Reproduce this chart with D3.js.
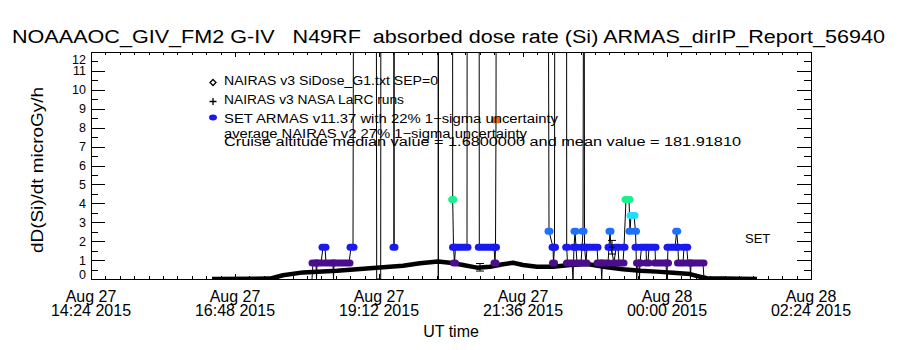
<!DOCTYPE html>
<html>
<head>
<meta charset="utf-8">
<script src="https://cdn.jsdelivr.net/npm/d3@7"></script>
<style>
  body { margin: 0; background: #fff; }
  text { font-family: "Liberation Sans", Arial, sans-serif; fill: #000; }
</style>
</head>
<body>
<div id="chart"></div>
<script>
// times are minutes after 2015-08-27 00:00 UT

// SET ARMAS v11.37 samples (values above 12 run off the top of the plot)
const armasMin = [1085, 1086, 1089, 1089.5, 1090, 1094, 1096, 1098, 1099, 1106, 1106.5, 1107, 1122, 1124, 1126,
  1127, 1149, 1149.7, 1153.7, 1154, 1166.5, 1167, 1167.5, 1211, 1211.3, 1211.6, 1225.5, 1225.7, 1226.5, 1227.5,
  1228.5, 1240, 1240.3, 1252, 1252.3, 1267, 1268, 1268.5, 1269, 1269.5, 1320.7, 1322, 1326, 1326.5, 1327.5,
  1328, 1339.5, 1339.7, 1340.5, 1345, 1346, 1347, 1348, 1349, 1350, 1354, 1355, 1356, 1357, 1357.5,
  1359, 1360, 1370, 1371, 1374, 1374.7, 1375.5, 1381, 1382, 1383, 1384, 1387, 1389, 1391, 1392,
  1396, 1397, 1399, 1402, 1403, 1404, 1407, 1408.5, 1409, 1409.7, 1410.5, 1412, 1412.5, 1413, 1414.5,
  1419, 1419.5, 1421, 1422, 1428, 1428.5, 1439, 1439.7, 1440.5, 1441, 1448, 1449.7, 1451, 1451.5, 1456,
  1457, 1459.7, 1461, 1463, 1463.5, 1464, 1476, 1477];
const armasDose = [0, 0.84, 0.84, 0, 0.84, 0.84, 1.68, 1.68, 0.84, 0.84, 0, 0.84, 0.84, 1.68, 1.68,
  30, 30, 0, 0, 30, 30, 1.68, 30, 30, 0, 30, 30, 4.2, 1.68, 0.84,
  1.68, 1.68, 30, 30, 1.68, 1.68, 0.84, 1.68, 8.4, 30, 30, 2.52, 1.68, 0.84, 1.68,
  30, 30, 1.68, 0.84, 0.84, 0, 1.68, 2.52, 1.68, 0.84, 0.84, 1.68, 2.52, 30, 1.68,
  0.84, 1.68, 1.68, 0.84, 0.84, 0, 0.84, 0.84, 1.68, 2.52, 1.68, 0.84, 1.68, 1.68, 0.84,
  0.84, 1.68, 4.2, 4.2, 2.52, 3.36, 3.36, 2.52, 1.68, 0, 0.84, 0.84, 0, 0.84, 1.68,
  1.68, 0.84, 0.84, 1.68, 1.68, 0.84, 0.84, 0, 0.84, 1.68, 1.68, 2.52, 1.68, 0.84, 0.84,
  1.68, 1.68, 0.84, 0.84, 0, 0.84, 0.84, 0];

// NAIRAS v3 SiDose_G1 along the flight
const nairasMin = [985, 1043, 1056, 1076, 1110, 1143, 1176, 1193, 1211, 1223, 1236, 1250, 1263, 1276, 1286,
  1296, 1310, 1326, 1343, 1360, 1380, 1396, 1413, 1430, 1446, 1463, 1473, 1480, 1530];
const nairasDose = [0, 0.02, 0.2, 0.35, 0.44, 0.57, 0.7, 0.83, 0.92, 0.86, 0.74, 0.6, 0.65, 0.78, 0.86,
  0.74, 0.65, 0.65, 0.74, 0.79, 0.62, 0.51, 0.44, 0.39, 0.33, 0.26, 0.12, 0.04, 0];

// NAIRAS v3 NASA LaRC runs
const larcMin = [1253, 1385];
const larcDose = [0.62, 1.68];
const larcErr = [0.2, 0.36];

const doseLevels = [0.84, 1.68, 2.52, 3.36, 4.2, 8.4];
const doseColors = ["#4c0c8e", "#1a1af0", "#1c72ff", "#22dcff", "#1cf08e", "#f06c14"];

const xTickMin = [864, 1008, 1152, 1296, 1440, 1584];
const yTicks = [0, 1, 2, 3, 4, 5, 6, 7, 8, 9, 10, 11, 12];

const legendLines = [
  "NAIRAS v3 SiDose_G1.txt SEP=0",
  "NAIRAS v3 NASA LaRC runs",
  "SET ARMAS v11.37 with 22% 1\u2212sigma uncertainty",
  "average NAIRAS v2 27% 1\u2212sigma uncertainty",
  "Cruise altitude median value = 1.6800000 and mean value = 181.91810"
];

var margin = { top: 52, right: 89, bottom: 71, left: 91 },
    width = 900 - margin.left - margin.right,
    height = 350 - margin.top - margin.bottom;

const svg = d3.select("#chart")
  .append("svg")
    .attr("width", 900)
    .attr("height", 350);

const g = svg.append("g")
    .attr("transform", `translate(${margin.left}, ${margin.top})`);

const t0 = Date.UTC(2015, 7, 27);
const toDate = m => new Date(t0 + m * 60000);

const x = d3.scaleUtc()
  .domain([toDate(xTickMin[0]), toDate(xTickMin[xTickMin.length - 1])])
  .range([0, width]);
const y = d3.scaleLinear().domain([0, 12]).range([height, 0]);
const color = d3.scaleOrdinal().domain(doseLevels).range(doseColors);

// title (keep the wide gaps between words)
svg.append("text")
  .attr("x", 12).attr("y", 43)
  .attr("font-size", 18)
  .style("white-space", "pre")
  .attr("textLength", 873).attr("lengthAdjust", "spacingAndGlyphs")
  .text("NOAAAOC_GIV_FM2 G-IV   N49RF  absorbed dose rate (Si) ARMAS_dirIP_Report_56940");

// clip for data
g.append("clipPath").attr("id", "plotclip")
  .append("rect").attr("width", width).attr("height", height);

// NAIRAS v3 curve (thick)
const nairas = nairasMin.map((m, i) => ({ m: m, v: nairasDose[i] }));
g.append("path")
  .datum(nairas)
  .attr("clip-path", "url(#plotclip)")
  .attr("fill", "none")
  .attr("stroke", "#000")
  .attr("stroke-width", 4.5)
  .attr("stroke-linejoin", "round")
  .attr("d", d3.line().x(d => x(toDate(d.m))).y(d => y(d.v)));

// ARMAS connecting line
const armas = armasMin.map((m, i) => ({ m: m, v: armasDose[i] }));
g.append("path")
  .datum(armas)
  .attr("clip-path", "url(#plotclip)")
  .attr("fill", "none")
  .attr("stroke", "#000")
  .attr("stroke-width", 1)
  .attr("d", d3.line().x(d => x(toDate(d.m))).y(d => y(d.v)));

// group consecutive equal readings into runs of markers
const runs = [];
armas.forEach(d => {
  const last = runs[runs.length - 1];
  if (last && last.v === d.v) last.m1 = d.m;
  else runs.push({ v: d.v, m0: d.m, m1: d.m });
});
g.append("g").attr("clip-path", "url(#plotclip)")
  .selectAll("rect")
  .data(runs.filter(r => r.v > 0 && r.v <= 12))
  .join("rect")
    .attr("x", r => x(toDate(r.m0)) - 4.5)
    .attr("width", r => x(toDate(r.m1)) - x(toDate(r.m0)) + 9)
    .attr("y", r => y(r.v) - 3.5)
    .attr("height", 7)
    .attr("rx", 3.5)
    .attr("fill", r => color(r.v));

// LaRC runs with error bars
larcMin.forEach((m, i) => {
  const cx = x(toDate(m));
  const lg = g.append("g").attr("stroke", "#000").attr("stroke-width", 1);
  lg.append("line").attr("x1", cx).attr("x2", cx)
    .attr("y1", y(larcDose[i] - larcErr[i])).attr("y2", y(larcDose[i] + larcErr[i]));
  [larcDose[i] - larcErr[i], larcDose[i] + larcErr[i]].forEach(v => {
    lg.append("line").attr("x1", cx - 4).attr("x2", cx + 4).attr("y1", y(v)).attr("y2", y(v));
  });
  lg.append("line").attr("x1", cx - 3).attr("x2", cx + 3)
    .attr("y1", y(larcDose[i])).attr("y2", y(larcDose[i]));
});

// frame
g.append("rect")
  .attr("width", width).attr("height", height)
  .attr("fill", "none").attr("stroke", "#000").attr("stroke-width", 1)
  .attr("shape-rendering", "crispEdges");

// x ticks, pointing inward on bottom and top
const xMinor = d3.range(xTickMin[0], xTickMin[xTickMin.length - 1] + 0.1, 14.4).map(toDate);
const xMajor = xTickMin.map(toDate);
function tickStyle(sel) {
  sel.select(".domain").remove();
  sel.selectAll("line").attr("shape-rendering", "crispEdges");
  sel.selectAll("text").remove();
}
g.append("g").attr("transform", `translate(0, ${height})`)
  .call(d3.axisBottom(x).tickValues(xMinor).tickSize(-3).tickFormat("")).call(tickStyle);
g.append("g").attr("transform", `translate(0, ${height})`)
  .call(d3.axisBottom(x).tickValues(xMajor).tickSize(-5).tickFormat("")).call(tickStyle);
g.append("g")
  .call(d3.axisTop(x).tickValues(xMinor).tickSize(-3).tickFormat("")).call(tickStyle);
g.append("g")
  .call(d3.axisTop(x).tickValues(xMajor).tickSize(-5).tickFormat("")).call(tickStyle);

// y ticks: majors at integers, minors at halves, both sides
const yMinor = yTicks.slice(0, -1).map(v => v + 0.5);
g.append("g").call(d3.axisLeft(y).tickValues(yMinor).tickSize(-7).tickFormat("")).call(tickStyle);
g.append("g").call(d3.axisLeft(y).tickValues(yTicks).tickSize(-14.4).tickFormat("")).call(tickStyle);
g.append("g").attr("transform", `translate(${width}, 0)`)
  .call(d3.axisRight(y).tickValues(yMinor).tickSize(-7).tickFormat("")).call(tickStyle);
g.append("g").attr("transform", `translate(${width}, 0)`)
  .call(d3.axisRight(y).tickValues(yTicks).tickSize(-14.4).tickFormat("")).call(tickStyle);

// y tick labels (end labels nudged inside like the original)
g.append("g").selectAll("text")
  .data(yTicks)
  .join("text")
    .attr("x", -5)
    .attr("y", d => y(d) + 4.5 + (d === 12 ? 7 : d === 0 ? -5 : 0))
    .attr("text-anchor", "end")
    .attr("font-size", 12.5)
    .text(d => d);

// x tick labels, two lines
const fmtDay = d3.utcFormat("%b %d");
const fmtTime = d3.utcFormat("%H:%M %Y");
const xl = g.append("g").selectAll("text")
  .data(xMajor)
  .join("text")
    .attr("text-anchor", "middle")
    .attr("font-size", 16);
xl.append("tspan").attr("x", d => x(d)).attr("y", height + 23).text(d => fmtDay(d));
xl.append("tspan").attr("x", d => x(d)).attr("y", height + 37).text(d => fmtTime(d));

// axis titles
g.append("text")
  .attr("x", width / 2).attr("y", height + 58)
  .attr("text-anchor", "middle").attr("font-size", 16)
  .text("UT time");
svg.append("text")
  .attr("transform", "translate(43, 170) rotate(-90)")
  .attr("text-anchor", "middle").attr("font-size", 16)
  .attr("textLength", 166).attr("lengthAdjust", "spacingAndGlyphs")
  .text("dD(Si)/dt microGy/h");

// legend
const legX = 224;
const legBase = [85, 104, 123, 138, 146];
const legLen = [214, 180, 334, 303, 517];
svg.append("g").selectAll("text")
  .data(legendLines)
  .join("text")
    .attr("x", legX)
    .attr("y", (d, i) => legBase[i])
    .attr("font-size", 12.5)
    .attr("textLength", (d, i) => legLen[i])
    .attr("lengthAdjust", "spacingAndGlyphs")
    .text(d => d);
svg.append("path")
  .attr("d", "M213,79.5 l3,3 l-3,3 l-3,-3 z")
  .attr("fill", "none").attr("stroke", "#000").attr("stroke-width", 1.3);
svg.append("path")
  .attr("d", "M209.5,101.5 h7 M213,98 v7")
  .attr("stroke", "#000").attr("stroke-width", 1.3);
svg.append("ellipse")
  .attr("cx", 213).attr("cy", 117.5).attr("rx", 4).attr("ry", 3)
  .attr("fill", doseColors[1]);

// SET label
svg.append("text")
  .attr("x", 745).attr("y", 243)
  .attr("font-size", 13)
  .text("SET");
</script>
</body>
</html>
